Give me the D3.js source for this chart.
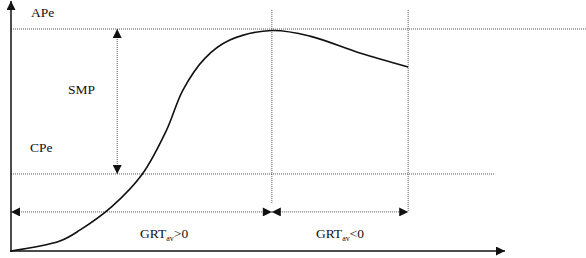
<!DOCTYPE html>
<html>
<head>
<meta charset="utf-8">
<script src="https://cdn.jsdelivr.net/npm/d3@7"></script>
<style>
  html, body { margin: 0; padding: 0; background: #fff; }
  svg { display: block; }
  text { font-family: "Liberation Serif", "DejaVu Serif", serif; font-size: 13.5px; fill: #111; }
  .guide { stroke: #555; stroke-width: 1; stroke-dasharray: 1,1; fill: none; }
  .axis { stroke: #111; stroke-width: 1.5; fill: none; }
  .curve { stroke: #111; stroke-width: 1.6; fill: none; }
</style>
</head>
<body>
<svg id="chart" width="586" height="258"></svg>
<script>
// time (arbitrary units) and value (% of APe)
const curveT = [0, 9.9, 14.0, 20.4, 26.6, 31.5, 34.8, 39.3, 44.3, 52.8, 60.5, 70.6, 80.4];
const curveV = [0, 4.5, 9.5, 20.0, 34.7, 54.5, 72.5, 86.9, 95.0, 99.3, 96.8, 89.2, 82.9];

const levelNames = ['APe', 'CPe'];
const levelValues = [100, 34.7];
const tPeak = 52.8;
const tEnd = 80.4;
const tSmp = 21.5;
const vSpan = 17.6;
const spanLabels = ['GRT', 'GRT'];
const spanSigns = ['>0', '<0'];

const svg = d3.select('#chart');
const x = d3.scaleLinear().domain([0, 100]).range([11, 505]);
const y = d3.scaleLinear().domain([0, 100]).range([251, 29]);

// arrow markers
const defs = svg.append('defs');
defs.append('marker')
  .attr('id', 'tri')
  .attr('viewBox', '0 0 10 10')
  .attr('refX', 10).attr('refY', 5)
  .attr('markerWidth', 10).attr('markerHeight', 9)
  .attr('markerUnits', 'userSpaceOnUse')
  .attr('orient', 'auto-start-reverse')
  .append('path').attr('d', 'M0,0L10,5L0,10Z').attr('fill', '#111');

// guide lines
svg.append('line').attr('class', 'guide')
  .attr('x1', x(0)).attr('x2', 586)
  .attr('y1', y(levelValues[0])).attr('y2', y(levelValues[0]));
svg.append('line').attr('class', 'guide')
  .attr('x1', x(0)).attr('x2', x(98))
  .attr('y1', y(levelValues[1])).attr('y2', y(levelValues[1]));
svg.append('line').attr('class', 'guide')
  .attr('x1', x(tPeak)).attr('x2', x(tPeak))
  .attr('y1', y(108.6)).attr('y2', y(21.6));
svg.append('line').attr('class', 'guide')
  .attr('x1', x(tEnd)).attr('x2', x(tEnd))
  .attr('y1', y(108.6)).attr('y2', y(vSpan));

// SMP double arrow
svg.append('line').attr('class', 'guide')
  .attr('x1', x(tSmp)).attr('x2', x(tSmp))
  .attr('y1', y(levelValues[0])).attr('y2', y(levelValues[1]))
  .attr('marker-start', 'url(#tri)').attr('marker-end', 'url(#tri)');

// span arrows
svg.append('line').attr('class', 'guide')
  .attr('x1', x(0)).attr('x2', x(tPeak))
  .attr('y1', y(vSpan)).attr('y2', y(vSpan))
  .attr('marker-start', 'url(#tri)').attr('marker-end', 'url(#tri)');
svg.append('line').attr('class', 'guide')
  .attr('x1', x(tPeak)).attr('x2', x(tEnd))
  .attr('y1', y(vSpan)).attr('y2', y(vSpan))
  .attr('marker-start', 'url(#tri)').attr('marker-end', 'url(#tri)');

// axes
svg.append('line').attr('class', 'axis')
  .attr('x1', x(0)).attr('x2', x(0))
  .attr('y1', y(0) + 1).attr('y2', 1)
  .attr('marker-end', 'url(#tri)');
svg.append('line').attr('class', 'axis')
  .attr('x1', x(0) - 1).attr('x2', x(100))
  .attr('y1', y(0)).attr('y2', y(0))
  .attr('marker-end', 'url(#tri)');

// curve
const pts = curveT.map((t, i) => [t, curveV[i]]);
svg.append('path').attr('class', 'curve')
  .attr('d', d3.line().x(d => x(d[0])).y(d => y(d[1])).curve(d3.curveCatmullRom.alpha(0.5))(pts));

// labels
svg.append('text').attr('x', 31).attr('y', 17).text(levelNames[0]);
svg.append('text').attr('x', 30).attr('y', 152).text(levelNames[1]);
svg.append('text').attr('x', 68).attr('y', 94).text('SMP');

const spanMid = [(0 + tPeak) / 2 + 4.6, (tPeak + tEnd) / 2];
spanLabels.forEach((lab, i) => {
  const t = svg.append('text')
    .attr('x', x(spanMid[i])).attr('y', 238)
    .attr('text-anchor', 'middle');
  t.append('tspan').text(lab);
  t.append('tspan').attr('font-size', '8px').attr('dy', 3).text('av');
  t.append('tspan').attr('dy', -3).text(spanSigns[i]);
});
</script>
</body>
</html>
